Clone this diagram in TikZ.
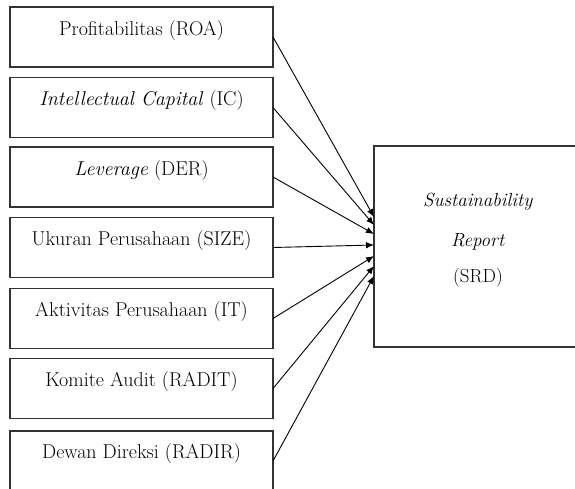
\documentclass[tikz,border=0pt]{standalone}
\usetikzlibrary{arrows.meta}
\begin{document}
\begin{tikzpicture}[x=1pt,y=-1pt,
  lbox/.style={draw=black!80,line width=1.1pt,minimum width=263pt,minimum height=60pt,inner sep=0pt,outer sep=0pt},
  lbl/.style={font=\fontsize{20}{24}\selectfont,inner sep=0pt,anchor=center},
  rlbl/.style={lbl,font=\fontsize{19}{23}\selectfont},
  arr/.style={line width=0.9pt,-{Latex[length=8pt,width=6.5pt]}}]
\useasboundingbox (0,0) rectangle (575,488);
\clip (0,0) rectangle (575,488);
% left boxes
\node[lbox] (b1) at (141.5,37) {};
\node[lbox] (b2) at (141.5,107.5) {};
\node[lbox] (b3) at (141.5,177) {};
\node[lbox] (b4) at (141.5,247.5) {};
\node[lbox] (b5) at (141.5,318.5) {};
\node[lbox] (b6) at (141.5,388.5) {};
\node[lbox] (b7) at (141.5,461) {};
\node[lbl] (t1) at (141.5,31) {Profitabilitas (ROA)};
\node[lbl] (t2) at (141.5,101) {\textit{Intellectual Capital} (IC)};
\node[lbl] (t3) at (141.5,171) {\textit{Leverage} (DER)};
\node[lbl] (t4) at (141.5,241) {Ukuran Perusahaan (SIZE)};
\node[lbl] (t5) at (141.5,312) {Aktivitas Perusahaan (IT)};
\node[lbl] (t6) at (141.5,382) {Komite Audit (RADIT)};
\node[lbl] (t7) at (141.5,453) {Dewan Direksi (RADIR)};
% right box
\node[lbox,minimum width=260pt,minimum height=201pt] (srd) at (504,246.5) {};
\node[rlbl] (s1) at (478,202) {\textit{Sustainability}};
\node[rlbl] (s2) at (478,242) {\textit{Report}};
\node[rlbl] (s3) at (478,278) {(SRD)};
% arrow ends
\coordinate (e1) at (374,217);
\coordinate (e2) at (374,225);
\coordinate (e3) at (374,234);
\coordinate (e4) at (374,245);
\coordinate (e5) at (374,256);
\coordinate (e6) at (374,266);
\coordinate (e7) at (374,276);
\draw[arr] (b1.east) -- (e1);
\draw[arr] (b2.east) -- (e2);
\draw[arr] (b3.east) -- (e3);
\draw[arr] (b4.east) -- (e4);
\draw[arr] (b5.east) -- (e5);
\draw[arr] (b6.east) -- (e6);
\draw[arr] (b7.east) -- (e7);
\end{tikzpicture}
\end{document}
